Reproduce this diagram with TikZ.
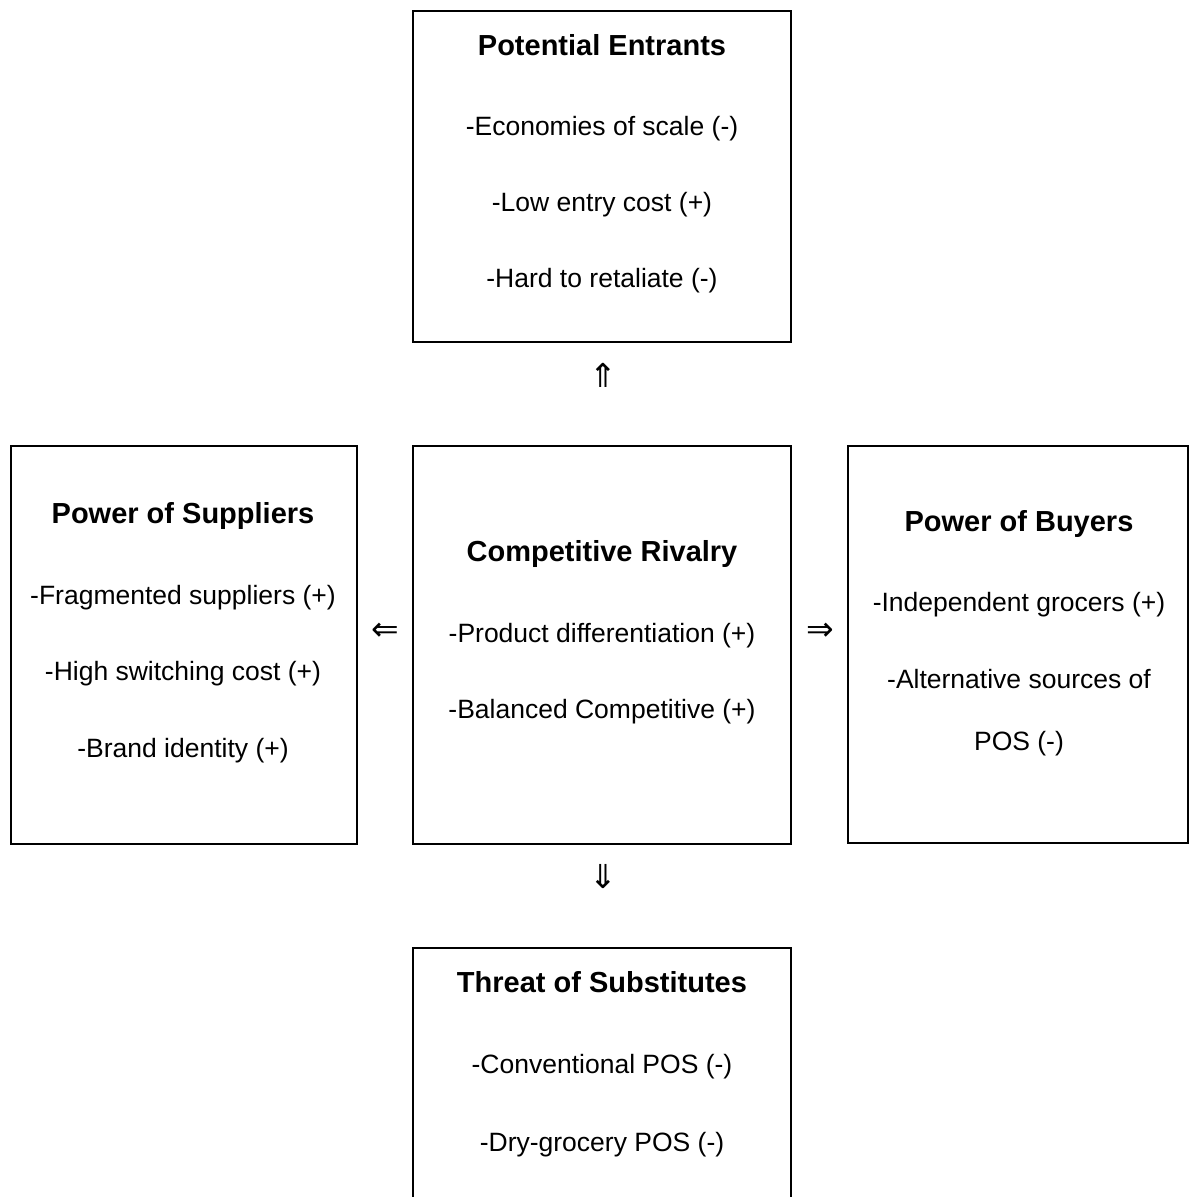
\documentclass[tikz,border=0pt]{standalone}
\usepackage{fontspec}
\setmainfont{Liberation Sans}
\newfontfamily\arrowfont{DejaVu Sans}
\begin{document}
\begin{tikzpicture}[x=1pt,y=-1pt,
  panel/.style={draw=black,line width=1.6pt,inner sep=0pt},
  heading/.style={font=\fontsize{29}{34}\selectfont\bfseries,text height=21pt,text depth=6pt,inner sep=0pt},
  factor/.style={font=\fontsize{26.5}{32}\selectfont,text height=19pt,text depth=6pt,inner sep=0pt},
  flow/.style={font=\fontsize{33}{38}\selectfont\arrowfont,inner sep=0pt}]
\useasboundingbox (0,0) rectangle (1189,1197);
\clip (0,0) rectangle (1189,1197);
\fill[white] (0,0) rectangle (1189,1197);

% five force panels
\draw[panel] (413,11) rectangle (791,342);
\draw[panel] (11,446) rectangle (357,844);
\draw[panel] (413,446) rectangle (791,844);
\draw[panel] (848,446) rectangle (1188,843);
\draw[panel] (413,1210) -- (413,948) -- (791,948) -- (791,1210);

% Potential Entrants
\node[heading] (pe) at (602,48) {Potential Entrants};
\node[factor] (pe1) at (602,129) {-Economies of scale (-)};
\node[factor] (pe2) at (602,205) {-Low entry cost (+)};
\node[factor] (pe3) at (602,281) {-Hard to retaliate (-)};

% Power of Suppliers
\node[heading] (ps) at (183,516) {Power of Suppliers};
\node[factor] (ps1) at (183,598) {-Fragmented suppliers (+)};
\node[factor] (ps2) at (183,674) {-High switching cost (+)};
\node[factor] (ps3) at (183,751) {-Brand identity (+)};

% Competitive Rivalry
\node[heading] (cr) at (602,554) {Competitive Rivalry};
\node[factor] (cr1) at (602,636) {-Product differentiation (+)};
\node[factor] (cr2) at (602,712) {-Balanced Competitive (+)};

% Power of Buyers
\node[heading] (pb) at (1019,524) {Power of Buyers};
\node[factor] (pb1) at (1019,605) {-Independent grocers (+)};
\node[factor] (pb2) at (1019,682) {-Alternative sources of};
\node[factor] (pb3) at (1019,744) {POS (-)};

% Threat of Substitutes
\node[heading] (ts) at (602,985) {Threat of Substitutes};
\node[factor] (ts1) at (602,1067) {-Conventional POS (-)};
\node[factor] (ts2) at (602,1145) {-Dry-grocery POS (-)};

% direction marks between panels
\node[flow] (up) at (603,375) {⇑};
\node[flow] (left) at (385,632) {⇐};
\node[flow] (right) at (820,632) {⇒};
\node[flow] (down) at (603,877) {⇓};
\end{tikzpicture}
\end{document}
